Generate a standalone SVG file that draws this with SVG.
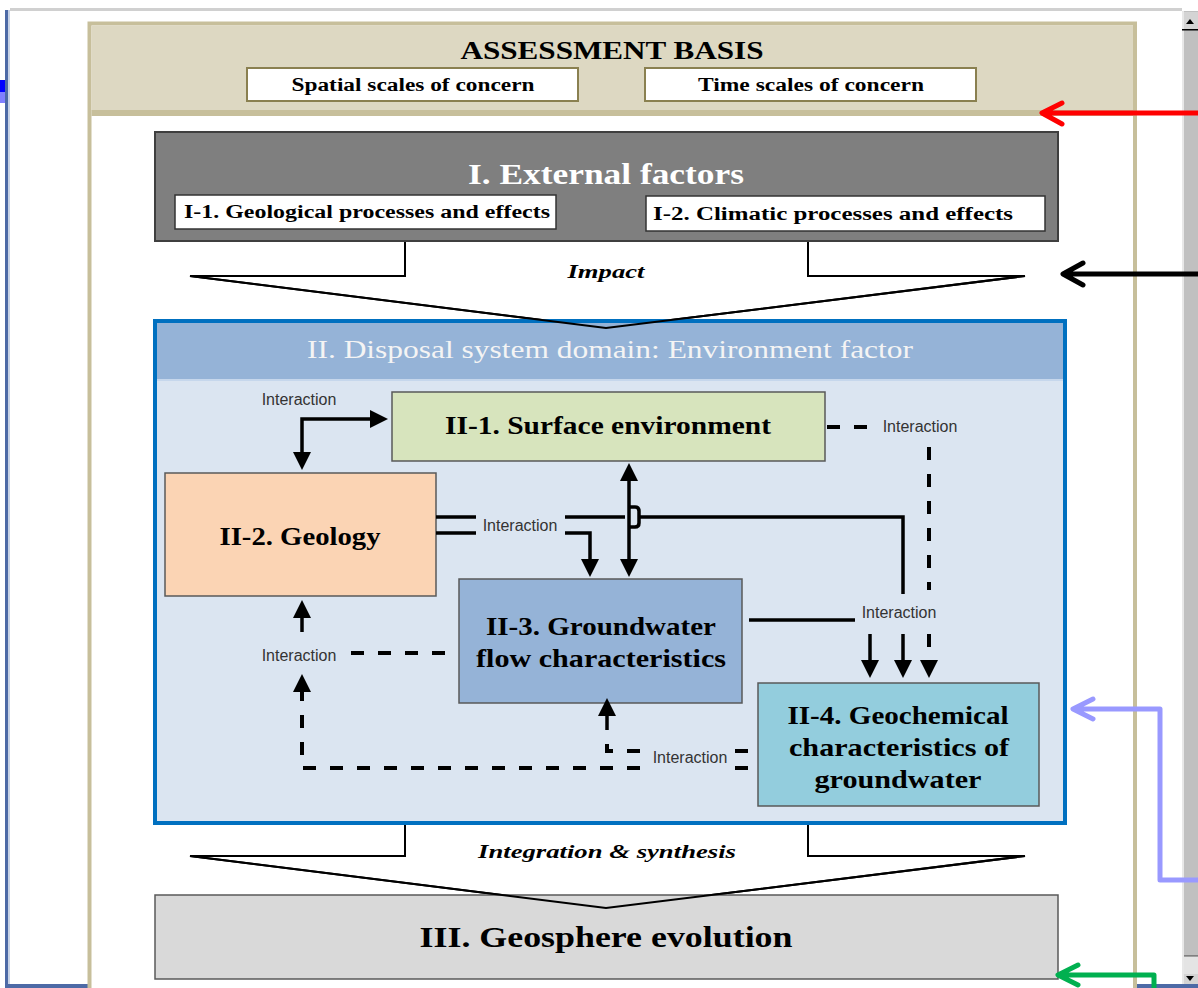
<svg xmlns="http://www.w3.org/2000/svg" width="1198" height="988" viewBox="0 0 1198 988">
  <style>
    .t { font-family: "Liberation Serif", "Times New Roman", serif; font-weight: bold; text-anchor: middle; fill: #000; }
    .ti { font-family: "Liberation Serif", "Times New Roman", serif; font-weight: bold; font-style: italic; text-anchor: middle; fill: #000; font-size: 19px; }
    .lbl { font-family: "Liberation Sans", Arial, sans-serif; font-size: 16px; fill: #333; text-anchor: middle; }
    .node { stroke: #595959; stroke-width: 1.5; }
    .sub { fill: #fff; stroke: #333; stroke-width: 1.5; }
    .scale { fill: #fff; stroke: #8a8050; stroke-width: 2; }
    .solid { fill: none; stroke: #000; stroke-width: 3.5; }
    .dash { fill: none; stroke: #000; stroke-width: 4; stroke-dasharray: 13 14; }
    .big { fill: #fff; stroke: #000; stroke-width: 2; }
    .edge { fill: none; stroke: #000; stroke-width: 2; }
    .note { fill: none; stroke-width: 5; stroke-linecap: round; stroke-linejoin: round; }
  </style>
  <defs>
    <marker id="ah" markerUnits="userSpaceOnUse" viewBox="0 0 18 18" markerWidth="18" markerHeight="18" refX="12" refY="9" orient="auto-start-reverse">
      <path d="M0,0 L18,9 L0,18 z" fill="#000"/>
    </marker>
  </defs>

  <!-- window background and chrome -->
  <g id="window">
    <rect x="0" y="0" width="1198" height="988" fill="#fff"/>
    <rect x="10" y="8" width="1172" height="3" fill="#d0d0d0"/>
    <rect x="5" y="10" width="3" height="978" fill="#4d6aa6"/>
    <rect x="8" y="10" width="2" height="978" fill="#c8d3e6"/>
    <rect x="0" y="80" width="5" height="12" fill="#0000ff"/>
    <rect x="0" y="92" width="5" height="11" fill="#8080ff"/>
    <rect x="5" y="984" width="1193" height="4" fill="#4d6aa6"/>
  </g>

  <!-- scrollbar -->
  <g id="scrollbar">
    <rect x="1182" y="11" width="16" height="973" fill="#c0c0c0"/>
    <rect x="1182" y="11" width="2" height="973" fill="#e8e8e8"/>
    <rect x="1184" y="12" width="14" height="17" fill="#d4d4d4"/>
    <rect x="1182" y="29" width="16" height="1.5" fill="#000"/>
    <path d="M1186,24 L1190,19 L1194,24 z" fill="#000"/>
    <rect x="1184" y="955" width="14" height="1.5" fill="#808080"/>
    <rect x="1184" y="957" width="14" height="17" fill="#e4e4e4"/>
    <rect x="1184" y="974" width="14" height="10" fill="#d4d4d4"/>
    <path d="M1186,976 L1190,981 L1194,976 z" fill="#000"/>
  </g>

  <!-- outer assessment frame -->
  <g id="frame">
    <rect x="89.5" y="23.5" width="1045.5" height="990" fill="#fff" stroke="#c7bf9b" stroke-width="4"/>
    <rect x="91.5" y="25.5" width="1041.5" height="85" fill="#ddd8c2"/>
    <rect x="91.5" y="110" width="1041.5" height="6" fill="#c7bf9b"/>
  </g>

  <g id="assessment-basis">
    <text class="t" x="612" y="59" font-size="26" textLength="303" lengthAdjust="spacingAndGlyphs">ASSESSMENT BASIS</text>
    <rect class="scale" x="247" y="68" width="331" height="33"/>
    <text class="t" x="413" y="91" font-size="18" textLength="243" lengthAdjust="spacingAndGlyphs">Spatial scales of concern</text>
    <rect class="scale" x="645" y="68" width="331" height="33"/>
    <text class="t" x="811" y="91" font-size="18" textLength="226" lengthAdjust="spacingAndGlyphs">Time scales of concern</text>
  </g>

  <!-- broad arrow: impact (body) -->
  <g id="impact">
    <path class="big" d="M405,241 V276 H190 L606,328 L1025,276 H808 V241"/>
    <text class="ti" x="606" y="278" textLength="77" lengthAdjust="spacingAndGlyphs">Impact</text>
  </g>

  <g id="external-factors">
    <rect x="155" y="132" width="903" height="109" fill="#7f7f7f" stroke="#3f3f3f" stroke-width="2"/>
    <text class="t" x="606" y="184" font-size="30" style="fill:#fff" textLength="276" lengthAdjust="spacingAndGlyphs">I. External factors</text>
    <rect class="sub" x="175" y="195" width="381" height="34"/>
    <text class="t" x="367" y="218" font-size="18" textLength="366" lengthAdjust="spacingAndGlyphs">I-1. Geological processes and effects</text>
    <rect class="sub" x="646" y="196" width="399" height="35"/>
    <text class="t" x="833" y="220" font-size="18" textLength="360" lengthAdjust="spacingAndGlyphs">I-2. Climatic processes and effects</text>
  </g>

  <!-- broad arrow: integration & synthesis (body) -->
  <g id="integration">
    <path class="big" d="M405,823 V856 H190 L606,908 L1025,856 H808 V823"/>
    <text class="ti" x="607" y="858" textLength="258" lengthAdjust="spacingAndGlyphs">Integration &amp; synthesis</text>
  </g>

  <g id="disposal-domain">
    <rect x="155" y="321" width="910" height="502" fill="#dbe5f1" stroke="#0070c0" stroke-width="4"/>
    <rect x="157" y="323" width="906" height="57" fill="#95b3d7"/>
    <rect x="157" y="379" width="906" height="2" fill="#c6d7ec"/>
    <text x="610" y="358" font-family="Liberation Serif, Times New Roman, serif" font-size="26" fill="#f4f4f4" text-anchor="middle" textLength="606" lengthAdjust="spacingAndGlyphs">II. Disposal system domain: Environment factor</text>
  </g>

  <g id="surface-environment">
    <rect class="node" x="392" y="392" width="433" height="69" fill="#d7e4bd"/>
    <text class="t" x="608" y="434" font-size="26" textLength="326" lengthAdjust="spacingAndGlyphs">II-1. Surface environment</text>
  </g>

  <g id="geology">
    <rect class="node" x="165" y="473" width="271" height="123" fill="#fbd4b4"/>
    <text class="t" x="300" y="545" font-size="26" textLength="161" lengthAdjust="spacingAndGlyphs">II-2. Geology</text>
  </g>

  <g id="groundwater-flow">
    <rect class="node" x="459" y="579" width="283" height="124" fill="#95b3d7"/>
    <text class="t" x="601" y="635" font-size="26" textLength="230" lengthAdjust="spacingAndGlyphs">II-3. Groundwater</text>
    <text class="t" x="601" y="667" font-size="26" textLength="250" lengthAdjust="spacingAndGlyphs">flow characteristics</text>
  </g>

  <g id="geochemistry">
    <rect class="node" x="758" y="683" width="281" height="123" fill="#93cddd"/>
    <text class="t" x="898" y="724" font-size="26" textLength="221" lengthAdjust="spacingAndGlyphs">II-4. Geochemical</text>
    <text class="t" x="899" y="756" font-size="26" textLength="220" lengthAdjust="spacingAndGlyphs">characteristics of</text>
    <text class="t" x="898" y="788" font-size="26" textLength="167" lengthAdjust="spacingAndGlyphs">groundwater</text>
  </g>

  <g id="geosphere-evolution">
    <rect class="node" x="155" y="895" width="903" height="84" fill="#d9d9d9"/>
    <text class="t" x="606" y="947" font-size="30" textLength="373" lengthAdjust="spacingAndGlyphs">III. Geosphere evolution</text>
  </g>

  <!-- tips of the broad arrows run over the box edges -->
  <g id="broad-arrow-tips">
    <path class="edge" d="M190,276 L606,328 L1025,276"/>
    <path class="edge" d="M190,856 L606,908 L1025,856"/>
  </g>

  <!-- interaction connectors -->
  <g id="connectors">
    <!-- geology <-> surface environment -->
    <path class="solid" d="M302,464 V419 H382" marker-start="url(#ah)" marker-end="url(#ah)"/>
    <!-- surface environment <-> groundwater flow -->
    <path class="solid" d="M629,469 V571" marker-start="url(#ah)" marker-end="url(#ah)"/>
    <!-- geology to geochemistry (upper line, hopping over the vertical) -->
    <path class="solid" d="M436,517 H476 M565,517 H625 M629,507 H635 Q639,507 639,511 V523 Q639,527 635,527 H629 M639,517 H903 V594"/>
    <!-- geology to groundwater flow (lower line) -->
    <path class="solid" d="M436,533 H476 M565,533 H590 V571" marker-end="url(#ah)"/>
    <!-- groundwater flow to geochemistry -->
    <path class="solid" d="M749,620 H855"/>
    <path class="solid" d="M870,634 V672" marker-end="url(#ah)"/>
    <path class="solid" d="M903,634 V672" marker-end="url(#ah)"/>
    <!-- surface environment to geochemistry (dashed) -->
    <path class="dash" d="M827,427 H870"/>
    <path class="dash" d="M929,447 V590"/>
    <path class="dash" d="M929,634 V672" stroke-dasharray="4 10 13 14" marker-end="url(#ah)"/>
    <!-- groundwater flow to geology (dashed) -->
    <path class="dash" d="M445,653 H346"/>
    <path class="solid" d="M302,632 V606" marker-end="url(#ah)"/>
    <!-- geochemistry to geology (dashed) -->
    <path class="dash" d="M748,768 H735"/>
    <path class="dash" d="M640,768 H302 V680" marker-end="url(#ah)"/>
    <!-- geochemistry to groundwater flow (dashed) -->
    <path class="dash" d="M748,751 H735"/>
    <path class="dash" d="M640,751 H607 V740"/>
    <path class="solid" d="M607,730 V704" marker-end="url(#ah)"/>
  </g>

  <g id="interaction-labels">
    <text class="lbl" x="299" y="405">Interaction</text>
    <text class="lbl" x="920" y="432">Interaction</text>
    <text class="lbl" x="520" y="531">Interaction</text>
    <text class="lbl" x="899" y="618">Interaction</text>
    <text class="lbl" x="299" y="661">Interaction</text>
    <text class="lbl" x="690" y="763">Interaction</text>
  </g>

  <!-- pointer arrows in the margin -->
  <g id="pointers">
    <path class="note" stroke="#ff0000" d="M1198,113 H1043 M1062,103 L1042,113 L1062,124"/>
    <path class="note" stroke="#000" d="M1198,274 H1064 M1083,263 L1063,274 L1083,285"/>
    <path class="note" stroke="#9999ff" d="M1198,880 H1160 V709 H1074 M1093,699 L1073,709 L1093,719"/>
    <path class="note" stroke="#00b050" d="M1154,990 V975 H1059 M1078,965 L1058,975 L1078,985"/>
  </g>
</svg>
